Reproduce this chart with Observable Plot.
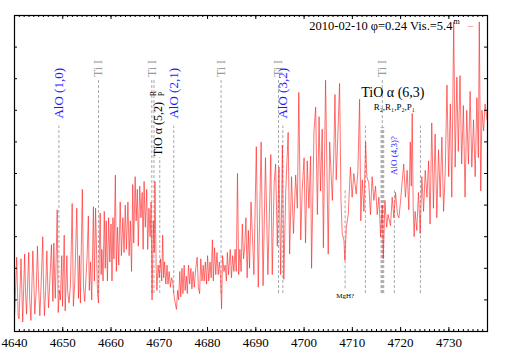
<!DOCTYPE html>
<html><head><meta charset="utf-8">
<script src="https://cdn.jsdelivr.net/npm/d3@7"></script>
<script src="https://cdn.jsdelivr.net/npm/@observablehq/plot@0.6"></script>
<style>body{margin:0;background:#fff}</style>
</head><body><div id="chart"></div>
<script>
// ---- spectrum: [wavelength (Å), relative flux] ----
const spectrum = [
[4640.05,0.6],[4640.45,2.35],[4640.75,0.5],[4640.95,0.4],[4641.35,2.3],[4641.7,0.3],[4642.1,2.45],[4642.3,1.2],[4642.5,0.55],[4642.95,2.5],
[4643.15,1.0],[4643.4,0.35],[4643.8,2.55],[4644.0,1.6],[4644.2,0.55],[4644.5,1.3],[4644.75,2.7],[4645.0,1.4],[4645.25,0.5],[4645.5,1.4],
[4645.85,3.0],[4646.0,1.5],[4646.2,0.5],[4646.45,1.3],[4646.7,2.55],[4646.9,1.4],[4647.05,0.75],[4647.3,1.5],[4647.65,2.75],[4647.85,1.6],
[4647.95,0.95],[4648.15,2.8],[4648.3,1.8],[4648.45,1.05],[4648.85,3.85],[4649.05,0.6],[4649.3,1.3],[4649.5,1.0],[4649.8,2.4],[4649.95,0.8],
[4650.3,3.05],[4650.5,0.65],[4650.85,2.4],[4651.0,1.3],[4651.3,0.9],[4651.6,1.5],[4651.95,4.05],[4652.2,0.8],[4652.5,1.6],[4652.9,3.9],
[4653.25,1.05],[4653.45,2.4],[4653.65,0.9],[4654.05,4.5],[4654.3,1.4],[4654.55,0.95],[4655.05,2.4],[4655.3,3.65],[4655.5,1.3],[4655.75,2.2],
[4656.0,1.0],[4656.35,3.95],[4656.55,1.6],[4656.8,3.9],[4657.2,1.2],[4657.4,0.9],[4657.6,2.7],[4657.75,3.75],[4657.95,1.8],[4658.1,2.6],
[4658.35,1.6],[4658.6,3.8],[4658.8,2.0],[4659.0,3.5],[4659.25,1.6],[4659.5,3.6],[4659.75,2.2],[4660.0,3.4],[4660.2,1.6],[4660.4,3.6],
[4660.6,2.3],[4660.9,4.95],[4661.1,1.9],[4661.35,3.3],[4661.6,2.1],[4661.9,4.1],[4662.15,2.4],[4662.45,3.6],[4662.7,2.5],[4662.95,4.0],
[4663.2,2.6],[4663.5,4.1],[4663.75,2.4],[4664.0,3.5],[4664.25,1.9],[4664.5,4.65],[4664.7,2.8],[4665.0,4.9],[4665.2,3.5],[4665.45,4.5],
[4665.65,2.7],[4665.95,4.6],[4666.2,3.6],[4666.45,4.4],[4666.65,2.6],[4666.85,4.75],[4667.1,3.3],[4667.4,4.5],[4667.6,2.6],[4667.85,3.9],
[4668.1,3.0],[4668.3,4.1],[4668.5,1.0],[4668.75,3.5],[4668.95,2.5],[4669.1,4.75],[4669.35,2.0],[4669.5,1.3],[4669.75,2.1],[4670.0,1.7],
[4670.25,2.3],[4670.5,1.6],[4670.7,3.05],[4670.9,1.7],[4671.1,2.2],[4671.35,1.5],[4671.6,2.1],[4671.8,1.5],[4672.05,1.9],[4672.3,1.4],
[4672.55,1.7],[4672.8,1.55],[4673.0,1.2],[4673.3,0.9],[4673.55,0.7],[4673.8,1.3],[4674.0,1.0],[4674.25,1.9],[4674.45,1.1],[4674.7,2.0],
[4674.9,1.2],[4675.15,2.1],[4675.35,1.3],[4675.6,1.75],[4675.8,1.2],[4676.05,2.1],[4676.3,1.5],[4676.55,2.0],[4676.75,1.35],[4677.0,1.9],
[4677.25,1.4],[4677.55,2.0],[4677.85,2.35],[4678.1,1.4],[4678.35,1.2],[4678.6,2.3],[4678.85,1.6],[4679.1,2.1],[4679.3,1.6],[4679.55,2.2],
[4679.8,1.5],[4680.0,2.4],[4680.25,1.6],[4680.5,2.2],[4680.75,1.7],[4681.0,2.9],[4681.2,1.6],[4681.45,2.65],[4681.7,1.8],[4681.95,2.5],
[4682.2,1.8],[4682.45,2.2],[4682.7,1.7],[4682.9,0.72],[4683.1,2.4],[4683.4,1.9],[4683.65,2.1],[4683.9,1.6],[4684.1,2.5],[4684.35,1.8],
[4684.7,2.6],[4684.95,1.7],[4685.2,2.4],[4685.45,1.9],[4685.7,2.6],[4685.95,1.9],[4686.2,5.0],[4686.45,1.8],[4686.7,2.6],[4686.95,1.9],
[4687.2,3.4],[4687.45,2.3],[4687.7,2.7],[4687.95,3.6],[4688.2,1.7],[4688.45,3.2],[4688.7,2.0],[4689.0,4.1],[4689.3,3.0],[4689.6,1.8],
[4690.1,5.85],[4690.5,1.4],[4691.1,6.0],[4691.5,1.45],[4692.0,5.5],[4692.5,1.8],[4693.1,5.6],[4693.4,1.8],[4693.8,4.7],[4694.1,5.3],
[4694.45,2.7],[4694.8,5.2],[4695.15,1.8],[4695.5,5.9],[4695.8,1.65],[4696.2,4.45],[4696.7,6.3],[4697.0,2.45],[4697.4,4.9],[4697.8,3.1],
[4698.25,4.95],[4698.6,3.9],[4698.9,7.57],[4699.3,2.9],[4699.6,4.45],[4700.0,5.5],[4700.3,2.8],[4700.65,5.4],[4701.0,3.9],[4701.35,5.55],
[4701.55,2.0],[4702.05,6.35],[4702.4,7.1],[4702.75,3.7],[4703.1,6.8],[4703.4,4.45],[4703.75,6.4],[4704.0,2.65],[4704.45,7.95],[4705.0,2.45],
[4705.3,6.0],[4705.85,4.15],[4706.15,5.6],[4706.4,7.5],[4706.65,4.8],[4706.95,6.0],[4707.35,7.85],[4707.65,4.15],[4707.9,3.1],[4708.25,2.9],
[4708.45,2.25],[4708.75,3.3],[4709.15,3.7],[4709.6,5.2],[4709.95,4.25],[4710.3,5.0],[4710.8,4.35],[4711.15,5.1],[4711.5,7.35],[4711.75,3.5],
[4712.05,4.8],[4712.4,3.8],[4712.75,6.0],[4713.0,4.9],[4713.4,4.7],[4713.75,3.7],[4714.1,4.9],[4714.45,4.15],[4714.8,4.6],[4715.15,3.7],
[4715.5,4.25],[4715.85,3.0],[4716.2,4.0],[4716.4,2.3],[4716.75,4.15],[4717.1,3.3],[4717.4,3.7],[4717.9,3.35],[4718.25,4.25],[4718.6,3.6],
[4718.95,4.4],[4719.35,3.7],[4719.65,3.6],[4720.0,4.15],[4720.35,4.8],[4720.65,5.3],[4721.0,4.25],[4721.35,5.1],[4721.7,3.85],[4722.0,6.0],
[4722.2,4.6],[4722.4,6.9],[4722.6,3.95],[4722.8,3.0],[4723.0,3.8],[4723.35,3.2],[4723.7,4.4],[4724.05,3.1],[4724.4,4.9],[4724.75,3.8],
[4725.1,5.1],[4725.45,4.25],[4725.8,5.4],[4726.1,3.4],[4726.45,6.6],[4726.8,3.9],[4727.15,6.25],[4727.5,3.6],[4727.85,5.75],[4728.2,4.25],
[4728.55,6.15],[4728.9,3.8],[4729.25,5.1],[4729.6,7.8],[4729.95,4.9],[4730.3,7.2],[4730.6,4.25],[4731.0,9.8],[4731.3,5.2],[4731.65,8.05],
[4731.95,5.7],[4732.3,8.1],[4732.65,5.3],[4733.0,7.15],[4733.35,4.25],[4733.7,7.0],[4734.05,5.3],[4734.4,7.6],[4734.75,5.2],[4735.1,6.7],
[4735.45,4.9],[4735.8,7.4],[4736.1,5.5],[4736.3,9.8],[4736.6,4.45],[4736.85,7.0],[4737.2,6.35],[4737.5,7.2],[4737.9,6.7]
];

// ---- line identifications (dashed markers), flux levels in data units ----
const markerWave   = [4649.2, 4657.4, 4668.45, 4668.9, 4670.1, 4673.0, 4682.8, 4694.7, 4695.6, 4708.5, 4712.7, 4715.95, 4716.1, 4716.2, 4716.35, 4716.5, 4718.7, 4724.1];
const markerTop    = [6.5, 8.0, 8.0, 8.0, 5.5, 6.5, 8.0, 8.0, 6.5, 4.45, 6.5, 6.45, 6.45, 8.0, 6.45, 6.45, 4.45, 6.5];
const markerBottom = [1.2, 1.2, 1.2, 1.2, 1.2, 1.2, 1.2, 1.2, 1.2, 1.35, 1.2, 1.2, 1.2, 1.2, 1.2, 1.2, 1.2, 1.2];

// rotated labels
const vLabelText = ["AlO (1,0)", "Ti I", "Ti I", "TiO α (5,2)", "AlO (2,1)", "Ti I", "Ti I", "AlO (3,2)", "Ti I", "AlO (4,3)?"];
const vLabelWave = [4649.2, 4657.4, 4668.5, 4669.75, 4673.0, 4682.8, 4694.55, 4695.65, 4716.2, 4718.7];
const vLabelFlux = [6.74, 8.05, 8.05, 5.55, 6.74, 8.05, 8.05, 6.74, 8.05, 4.95];
const vLabelKind = ["AlO", "Ti", "Ti", "TiO", "AlO", "Ti", "Ti", "AlO", "Ti", "AlOq"];

// branch tags of TiO α (5,2)
const branchText = ["R", "P"];
const branchWave = [4668.8, 4670.45];
const branchFlux = [7.45, 7.45];

// horizontal labels
const hLabelText = ["TiO α (6,3)", "R₂,R₁,P₂,P₁", "MgH?"];
const hLabelWave = [4718.4, 4718.7, 4708.5];
const hLabelFlux = [7.55, 7.09, 1.14];
const hLabelKind = ["big", "small", "tiny"];

// axes
const xMajorTicks = [4640, 4650, 4660, 4670, 4680, 4690, 4700, 4710, 4720, 4730];
const yTicks = [1, 2, 3, 4, 5, 6, 7, 8, 9];
const legendText = "2010-02-10 φ=0.24 Vis.=5.4";

// ---- build ----
const W = 509, H = 356, mL = 14, mR = 22, mT = 15, mB = 25;
const plotW = W - mL - mR, plotH = H - mT - mB;
const spec = spectrum.map(([w, f]) => ({w, f}));
const markers = markerWave.map((w, i) => ({w, top: markerTop[i], bottom: markerBottom[i]}));
const vLabels = vLabelText.map((t, i) => ({t, w: vLabelWave[i], f: vLabelFlux[i], k: vLabelKind[i]}));
const branches = branchText.map((t, i) => ({t, w: branchWave[i], f: branchFlux[i]}));
const hLabels = hLabelText.map((t, i) => ({t, w: hLabelWave[i], f: hLabelFlux[i], k: hLabelKind[i]}));
const minorTicks = d3.range(4640, 4738, 1);
const kindColor = {AlO: "#1a1aff", AlOq: "#1a1aff", Ti: "#9a9a9a", TiO: "#000"};
const kindSize = {AlO: 13, AlOq: 9, Ti: 12, TiO: 12};
const hSize = {big: 14, small: 9, tiny: 7};

const font = "'Liberation Serif', 'Times New Roman', serif";
const chart = Plot.plot({
  width: W, height: H,
  marginLeft: mL, marginRight: mR, marginTop: mT, marginBottom: mB,
  style: {fontFamily: font, background: "#fff", color: "#000", overflow: "visible"},
  x: {domain: [4640, 4738]},
  y: {domain: [0, 10], axis: null},
  marks: [
    Plot.ruleX(markers, {x: "w", y1: "bottom", y2: "top", stroke: "#a8a8a8", strokeWidth: 1, strokeDasharray: "3,2"}),
    Plot.line(spec, {x: "w", y: "f", stroke: "#ff2020", strokeWidth: 0.7, strokeOpacity: 0.9}),
    ...Object.keys(kindColor).map(k => Plot.text(vLabels.filter(d => d.k === k), {
      x: "w", y: "f", text: "t", rotate: -90, textAnchor: "start", lineAnchor: "middle",
      fill: kindColor[k], fontSize: kindSize[k]
    })),
    Plot.text(branches, {x: "w", y: "f", text: "t", rotate: -90, textAnchor: "start", lineAnchor: "middle", fontSize: 7.5, fill: "#000"}),
    ...Object.keys(hSize).map(k => Plot.text(hLabels.filter(d => d.k === k), {
      x: "w", y: "f", text: "t", textAnchor: "middle", lineAnchor: "middle", fontSize: hSize[k], fill: "#000"
    })),
    // legend
    Plot.text([legendText], {frameAnchor: "top-right", dx: -35, dy: 10.5, textAnchor: "end", lineAnchor: "middle", fontSize: 12.5, fill: "#000"}),
    Plot.text(["m"], {frameAnchor: "top-right", dx: -34, dy: 6, textAnchor: "start", lineAnchor: "middle", fontSize: 8, fill: "#000"}),
    Plot.text(["–"], {frameAnchor: "top-right", dx: -17, dy: 10, textAnchor: "middle", lineAnchor: "middle", fontSize: 11, fill: "#ff7070"}),
    // ticks (inward)
    Plot.ruleX(minorTicks, {insetTop: plotH - 2, stroke: "#000"}),
    Plot.ruleX(minorTicks, {insetBottom: plotH - 2, stroke: "#000"}),
    Plot.ruleX(xMajorTicks, {insetTop: plotH - 4, stroke: "#000"}),
    Plot.ruleX(xMajorTicks, {insetBottom: plotH - 4, stroke: "#000"}),
    Plot.ruleY(yTicks, {insetRight: plotW - 3, stroke: "#000"}),
    Plot.ruleY(yTicks, {insetLeft: plotW - 3, stroke: "#000"}),
    Plot.frame({stroke: "#000", strokeWidth: 1.2}),
    Plot.axisX(xMajorTicks, {tickSize: 0, tickPadding: 6, fontSize: 13, tickFormat: d => String(d), label: null})
  ]
});
document.getElementById("chart").append(chart);
</script>
</body></html>
